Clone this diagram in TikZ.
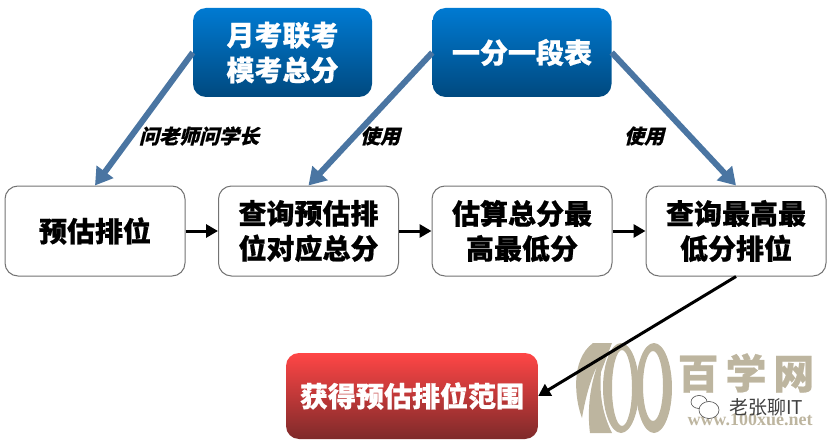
\documentclass[tikz,border=0pt]{standalone}
\usepackage{fontspec}
\usetikzlibrary{arrows.meta}
\setmainfont[BoldFeatures={FakeBold=0.6}]{Noto Sans CJK SC}
\newfontfamily\cjkslant[FakeSlant=0.25,BoldFeatures={FakeBold=0.4}]{Noto Sans CJK SC}
\newfontfamily\wmserif{Liberation Serif}
\definecolor{bluearrow}{HTML}{4A75A2}
\definecolor{wmtan}{HTML}{BDB59F}
\definecolor{blueTop}{HTML}{007AD2}
\definecolor{blueBot}{HTML}{00497F}
\definecolor{redTop}{HTML}{FF4646}
\definecolor{redBot}{HTML}{7E2A2A}
\tikzset{
  boxbase/.style={rounded corners=13pt,inner sep=0pt,align=center,font=\fontsize{28}{35}\selectfont\bfseries},
  bluebox/.style={boxbase,minimum width=179pt,minimum height=89pt,top color=blueTop,bottom color=blueBot,text=white},
  whitebox/.style={boxbase,minimum width=180pt,minimum height=90pt,draw=black!55,line width=1pt,fill=white,text=black},
  redbox/.style={boxbase,minimum width=252pt,minimum height=86pt,top color=redTop,bottom color=redBot,text=white,font=\fontsize{28}{32}\selectfont\bfseries},
  bluearr/.style={draw=bluearrow,line width=6pt,-{Triangle[length=17pt,width=20pt]}},
  blackarr/.style={draw=black,line width=3pt,-{Triangle[length=12pt,width=13pt]}},
  uselabel/.style={inner sep=0pt,font=\fontsize{20}{22}\selectfont\cjkslant\bfseries},
  wmtext/.style={inner sep=0pt,text=wmtan}
}
\begin{document}
\begin{tikzpicture}[x=1pt,y=-1pt]
\useasboundingbox (0,0) rectangle (831,444);
% watermark
\fill[wmtan] (582,418) .. controls (575,400) and (570,360) .. (593,343) -- (612,343) -- (601,372) .. controls (599,395) and (603,415) .. (612,433) -- (590,433) .. controls (587,410) and (590,385) .. (598,364) .. controls (590,380) and (585,400) .. (582,418) -- cycle;
\fill[wmtan,even odd rule] (621,388) ellipse [x radius=18,y radius=45] (622,388) ellipse [x radius=10,y radius=38];
\fill[wmtan,even odd rule] (654,388) ellipse [x radius=18,y radius=45] (653,386) ellipse [x radius=10,y radius=35];
\node[wmtext,font=\fontsize{41}{43}\selectfont\bfseries] (wmname) at (746,373) {百\,学\,网};
\node[wmtext,font=\fontsize{18}{20}\selectfont\wmserif\bfseries] (wmurl) at (750,420) {www.100xue.net};
% nodes
\node[bluebox] (m1) at (282.5,52.5) {月考联考\\模考总分};
\node[bluebox] (m2) at (522,52.5) {一分一段表};
\node[whitebox] (b1) at (95,231) {预估排位};
\node[whitebox] (b2) at (308.5,231) {查询预估排\\位对应总分};
\node[whitebox] (b3) at (522,231) {估算总分最\\高最低分};
\node[whitebox] (b4) at (736,231) {查询最高最\\低分排位};
\node[redbox] (r) at (412,396) {获得预估排位范围};
% connectors
\draw[bluearr] (m1.west) -- (b1.north);
\draw[bluearr] (m2.west) -- (b2.north);
\draw[bluearr] (m2.east) -- (b4.north);
\draw[blackarr] (b1) -- (b2);
\draw[blackarr] (b2) -- (b3);
\draw[blackarr] (b3) -- (b4);
\draw[blackarr] (b4.south) -- (r.east);
% labels
\node[uselabel] (l1) at (199,136) {问老师问学长};
\node[uselabel] (l2) at (380,136) {使用};
\node[uselabel] (l3) at (644,136) {使用};
% overlay mark
\fill[white] (691,410) ellipse [x radius=9,y radius=7];
\draw[black!70,line width=.6pt,fill=white] (699,402) ellipse [x radius=8,y radius=6.5];
\draw[black!70,line width=.6pt,fill=white] (709,410) ellipse [x radius=10,y radius=8.5];
\node[inner sep=0pt,text=black!75,font=\fontsize{19}{21}\selectfont] (wmaccount) at (766,407) {老张聊IT};
\end{tikzpicture}
\end{document}
